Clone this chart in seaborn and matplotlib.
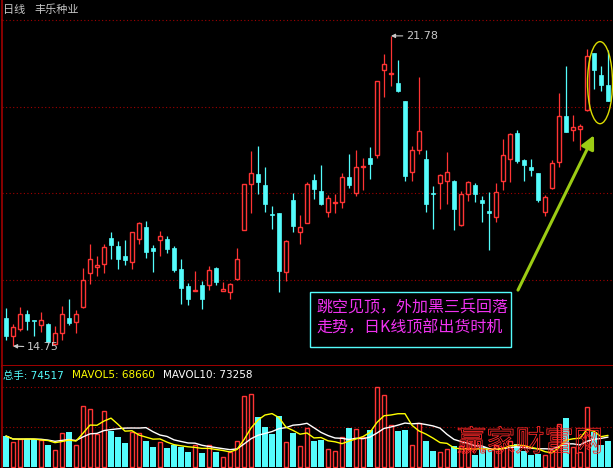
import numpy as np
import pandas as pd
import matplotlib
matplotlib.use("Agg")
import matplotlib.pyplot as plt
import matplotlib.patheffects as pe
from matplotlib.patches import Ellipse, Rectangle
import seaborn as sns

# ---------------- data ----------------
open_ = [15.39, 14.99, 15.14, 15.48, 15.32, 15.24, 15.25, 14.80, 15.04, 15.38,
         15.30, 15.64, 16.40, 16.55, 16.60, 17.19, 17.03, 16.79, 16.65, 17.17,
         17.45, 16.97, 17.16, 17.18, 16.97, 16.50, 16.11, 15.99, 16.14, 16.14,
         16.52, 16.01, 15.98, 16.28, 17.39, 18.43, 18.65, 18.40, 17.74, 17.77,
         16.42, 18.06, 17.33, 17.55, 18.51, 18.26, 17.80, 17.99, 18.02, 18.58,
         18.23, 18.82, 19.01, 19.09, 21.01, 20.91, 20.71, 20.30, 18.70, 19.20,
         18.99, 18.20, 18.45, 18.50, 18.49, 17.49, 18.20, 18.40, 18.06, 17.81,
         17.68, 18.50, 19.00, 19.58, 18.97, 18.81, 18.67, 17.80, 18.33, 18.92,
         19.96, 19.64, 19.66, 20.09, 21.39, 20.89, 20.67]
close = [14.99, 15.18, 15.47, 15.33, 15.31, 15.34, 14.85, 15.04, 15.47, 15.28,
         15.47, 16.26, 16.72, 16.59, 16.99, 17.05, 16.73, 16.70, 17.33, 17.53,
         16.89, 16.91, 17.24, 16.96, 16.48, 16.07, 15.82, 16.00, 15.82, 16.48,
         16.20, 16.04, 16.15, 16.72, 18.42, 18.67, 18.47, 17.98, 17.73, 16.46,
         17.13, 17.48, 17.44, 18.42, 18.32, 17.98, 18.10, 18.02, 18.58, 18.39,
         18.82, 18.83, 18.88, 20.75, 21.14, 20.92, 20.52, 18.61, 19.19, 19.62,
         17.98, 18.19, 18.63, 18.69, 17.86, 18.20, 18.48, 18.20, 18.00, 17.77,
         18.24, 19.08, 19.55, 18.95, 18.86, 18.73, 18.07, 18.12, 18.89, 19.96,
         19.61, 19.71, 19.74, 21.32, 21.01, 20.66, 20.31]
high = [15.62, 15.25, 15.63, 15.57, 15.32, 15.52, 15.27, 15.21, 15.66, 15.82,
        15.58, 16.52, 17.06, 16.79, 17.06, 17.34, 17.13, 17.15, 17.34, 17.57,
        17.59, 17.04, 17.36, 17.25, 17.03, 16.72, 16.18, 16.45, 16.23, 16.57,
        16.54, 16.20, 16.19, 16.97, 18.42, 19.17, 19.28, 18.81, 17.93, 17.77,
        17.15, 18.22, 17.72, 18.46, 18.65, 18.85, 18.17, 18.20, 18.67, 19.10,
        19.19, 19.01, 19.26, 20.75, 21.37, 21.78, 21.23, 20.30, 19.28, 20.85,
        19.19, 18.38, 18.65, 19.15, 18.51, 18.26, 18.49, 18.45, 18.15, 18.24,
        18.45, 19.44, 19.57, 19.65, 18.98, 18.99, 18.68, 18.17, 18.97, 20.49,
        21.10, 19.98, 19.79, 21.48, 21.40, 21.10, 21.46]
low = [14.89, 14.75, 15.10, 15.12, 14.99, 15.08, 14.83, 14.78, 14.90, 15.23,
       15.05, 15.62, 16.15, 16.35, 16.40, 16.73, 16.50, 16.59, 16.50, 17.06,
       16.75, 16.42, 16.80, 16.87, 16.43, 15.70, 15.68, 15.99, 15.59, 16.02,
       16.14, 16.01, 15.82, 16.26, 17.38, 17.77, 18.20, 17.79, 17.41, 15.98,
       16.23, 17.34, 17.06, 17.54, 18.08, 17.95, 17.68, 17.77, 17.89, 18.33,
       18.16, 18.29, 18.54, 19.02, 20.40, 20.65, 20.51, 18.50, 18.50, 19.10,
       17.79, 17.41, 17.86, 17.98, 17.39, 17.48, 18.05, 18.02, 17.57, 16.93,
       17.56, 18.29, 18.48, 18.91, 18.50, 18.61, 18.02, 17.71, 18.32, 18.82,
       19.60, 19.40, 19.19, 20.08, 20.57, 20.52, 20.30]
volume = [87600, 70800, 78400, 80100, 78400, 75600, 62400, 48400, 96000, 98800,
          61600, 171600, 163200, 93200, 157600, 102500, 84800, 68000, 98800, 96900,
          73600, 56800, 70800, 54000, 61600, 57700, 42800, 62400, 40000, 61600,
          42800, 28000, 42800, 73600, 199600, 205200, 140800, 112800, 93200, 143600,
          70800, 96000, 59600, 110000, 74500, 76400, 50400, 45600, 84000, 110000,
          106400, 84000, 104400, 224000, 202400, 117600, 101600, 104400, 61600, 123200,
          73600, 45600, 42000, 50400, 59600, 59600, 51200, 34400, 56000, 51200,
          62400, 56800, 73600, 65200, 46500, 35300, 37200, 34400, 48400, 121200,
          138000, 56800, 42800, 168000, 98800, 62400, 74517]

title_period = "日线"
title_name = "丰乐种业"
max_label = "21.78"
min_label = "14.75"
vol_labels = ["总手: 74517", "MAVOL5: 68660", "MAVOL10: 73258"]
note_lines = ["跳空见顶，外加黑三兵回落", "走势，日K线顶部出货时机"]
watermark = "赢家财富网"

# ---------------- style ----------------
sns.set_style("dark", {"axes.facecolor": "black", "figure.facecolor": "black",
                       "axes.grid": False})
plt.rcParams["font.family"] = ["DejaVu Sans", "Noto Sans CJK SC"]

RED = "#FF3434"
CYAN = "#54FCFC"
GRID = "#A00000"
SPINE = "#A00000"
GRAY = "#C8C8C8"

W, H = 613, 468
fig = plt.figure(figsize=(W / 100, H / 100), dpi=100, facecolor="black")


def fy(y):
    return 1 - y / H


ax = fig.add_axes([2 / W, fy(366), 1 - 2 / W, (366 - 20) / H])
axv = fig.add_axes([2 / W, 0, 1 - 2 / W, (468 - 366) / H])
for a in (ax, axv):
    a.set_facecolor("black")
    a.set_xticks([])
    a.set_yticks([])
    for s in a.spines.values():
        s.set_visible(False)
    a.spines["left"].set_visible(True)
    a.spines["left"].set_color(SPINE)
    a.spines["left"].set_linewidth(1.2)
ax.spines["bottom"].set_visible(True)
ax.spines["bottom"].set_color(SPINE)
ax.spines["bottom"].set_linewidth(1.4)

o = np.array(open_)
c = np.array(close)
hi = np.array(high)
lo = np.array(low)
v = np.array(volume, dtype=float)
n = len(o)
x = np.arange(n)
up = c >= o

# ---------------- price panel ----------------
ylo, yhi = 14.30, 22.14
for g in np.linspace(ylo, yhi, 5)[1:]:
    ax.axhline(g, color=GRID, lw=0.8, ls=(0, (1, 2.2)), zorder=0, clip_on=False)

ax.vlines(x[up], lo[up], hi[up], color=RED, lw=0.9, zorder=1)
ax.vlines(x[~up], lo[~up], hi[~up], color=CYAN, lw=0.9, zorder=1)
bb = np.minimum(o, c)
bh = np.maximum(np.abs(c - o), 0.023)
ax.bar(x[up], bh[up], bottom=bb[up], width=0.6, facecolor="black",
       edgecolor=RED, lw=1.0, zorder=2)
ax.bar(x[~up], bh[~up], bottom=bb[~up], width=0.66, facecolor=CYAN,
       edgecolor=CYAN, lw=0.5, zorder=2)

ax.set_xlim(-4 / 7, (613 - 6) / 7)
ax.set_ylim(ylo, yhi)

imax = int(np.argmax(hi))
imin = int(np.argmin(lo))
arrow_kw = dict(arrowstyle="-|>", color=GRAY, lw=0.8, shrinkA=0, shrinkB=0,
                mutation_scale=6)
ax.annotate(max_label, xy=(x[imax], hi[imax]), xytext=(15, 0),
            textcoords="offset pixels", color=GRAY, fontsize=8, va="center",
            ha="left", arrowprops=arrow_kw, zorder=5)
ax.annotate(min_label, xy=(x[imin], lo[imin]), xytext=(14, -1),
            textcoords="offset pixels", color=GRAY, fontsize=8, va="center",
            ha="left", arrowprops=arrow_kw, zorder=5)

# ellipse around the last three candles
ax.add_patch(Ellipse((84.86, 20.72), width=3.57, height=1.86, fill=False,
                     edgecolor="#DCDC00", lw=1.0, zorder=4))
# green arrow
ax.annotate("", xy=(84.0, 19.53), xytext=(73.14, 16.02),
            arrowprops=dict(arrowstyle="-|>", color="#9CCC14", lw=2.2,
                            shrinkA=0, shrinkB=0, mutation_scale=20), zorder=4)

# ---------------- volume panel ----------------
vlo, vhi = -2000, 283600
for g in (112000, 224000):
    axv.axhline(g, color=GRID, lw=0.8, ls=(0, (1, 2.2)), zorder=0)
axv.bar(x[up], v[up], width=0.6, facecolor="black", edgecolor=RED, lw=1.0, zorder=2)
axv.bar(x[~up], v[~up], width=0.72, facecolor=CYAN, edgecolor="none", zorder=2)
vs = pd.Series(v)
df = pd.DataFrame({"x": x, "ma5": vs.rolling(5, min_periods=1).mean(),
                   "ma10": vs.rolling(10, min_periods=1).mean()})
sns.lineplot(data=df, x="x", y="ma10", ax=axv, color="white", lw=1.0, zorder=3)
sns.lineplot(data=df, x="x", y="ma5", ax=axv, color="#FFFF00", lw=1.0, zorder=3)
axv.set_xlabel("")
axv.set_ylabel("")
axv.set_xticks([])
axv.set_yticks([])
axv.set_xlim(-4 / 7, (613 - 6) / 7)
axv.set_ylim(vlo, vhi)

# ---------------- texts ----------------
fig.add_artist(plt.Line2D([2 / W, 2 / W], [fy(20), 1], color=SPINE, lw=1.2))
fig.text(3 / W, fy(10), title_period, color=GRAY, fontsize=8, va="center")
fig.text(34 / W, fy(10), title_name, color=GRAY, fontsize=8, va="center")

vcols = [CYAN, "#FFFF00", "white"]
vxs = [3, 72, 163]
for t, col, xx in zip(vol_labels, vcols, vxs):
    fig.text(xx / W, fy(375.5), t, color=col, fontsize=7.5, va="center")

fig.add_artist(Rectangle((310 / W, fy(346.7)), 201 / W, 54.7 / H,
                         transform=fig.transFigure, facecolor="black",
                         edgecolor=CYAN, lw=1.0, zorder=6))
for i, t in enumerate(note_lines):
    fig.text(316 / W, fy(308 + 20 * i), t, color="#F032F0", fontsize=11.5,
             va="center", family=["Noto Sans CJK SC", "DejaVu Sans"], zorder=7)

fig.text(457 / W, fy(443), watermark, color=(0, 0, 0, 0), fontsize=21,
         va="center", family=["Noto Sans CJK SC"], zorder=8,
         path_effects=[pe.Stroke(linewidth=0.6, foreground="#FF2828")])

fig.savefig("out.png", dpi=100, facecolor="black")
